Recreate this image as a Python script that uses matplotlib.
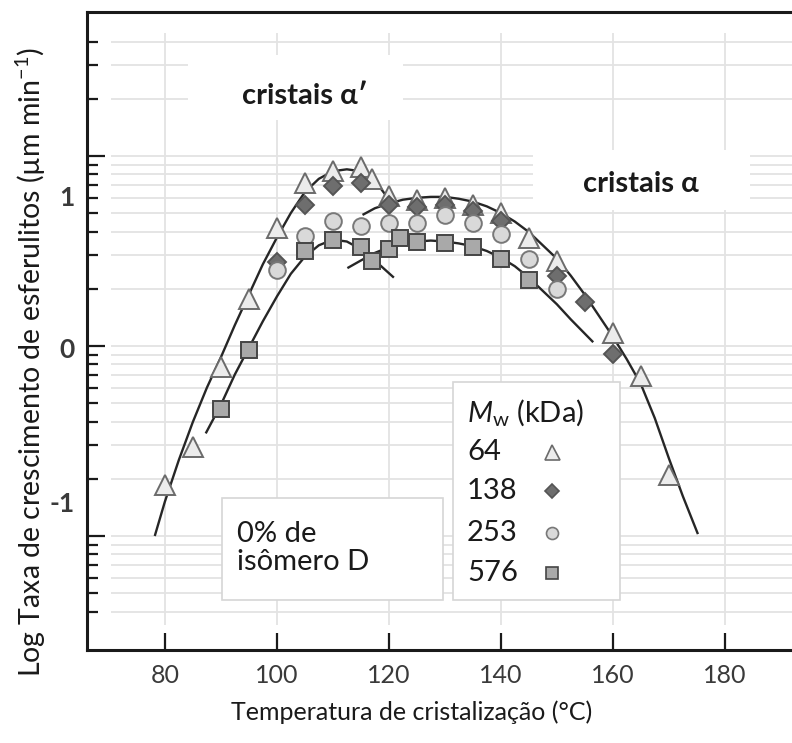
import numpy as np
import matplotlib.pyplot as plt
from matplotlib.patches import Rectangle
from matplotlib.transforms import blended_transform_factory

plt.rcParams['font.family'] = ['Lato', 'DejaVu Sans']
plt.rcParams['mathtext.fontset'] = 'custom'
plt.rcParams['mathtext.rm'] = 'Lato'
plt.rcParams['mathtext.it'] = 'Lato:italic'

# log10 of spherulite growth rate vs crystallization temperature, per Mw (kDa)
t_64 = [80, 85, 90, 95, 100, 105, 110, 115, 117, 120, 125, 130, 135, 140, 145, 150, 160, 165, 170]
g_64 = [-0.73, -0.53, -0.11, 0.25, 0.62, 0.86, 0.92, 0.94, 0.88, 0.79, 0.77, 0.78, 0.74, 0.70,
        0.57, 0.45, 0.07, -0.16, -0.68]
t_138 = [100, 105, 110, 115, 120, 125, 130, 135, 140, 150, 155, 160]
g_138 = [0.44, 0.74, 0.84, 0.86, 0.74, 0.73, 0.74, 0.71, 0.66, 0.37, 0.23, -0.04]
t_253 = [100, 105, 110, 115, 120, 125, 130, 135, 140, 145, 150]
g_253 = [0.40, 0.58, 0.66, 0.63, 0.65, 0.65, 0.69, 0.65, 0.59, 0.46, 0.30]
t_576 = [90, 95, 105, 110, 115, 117, 120, 122, 125, 130, 135, 140, 145]
g_576 = [-0.33, -0.02, 0.50, 0.56, 0.52, 0.45, 0.51, 0.57, 0.55, 0.54, 0.52, 0.46, 0.35]

# fitted curves (alpha' and alpha regimes)
fit1_t = [78.2, 80, 82.5, 85, 87.5, 90, 92.5, 95, 97.5, 100, 102.5, 105, 107.5, 110, 112.5, 115, 117.5, 119.3]
fit1_g = [-1.00, -0.82, -0.60, -0.40, -0.22, -0.06, 0.11, 0.27, 0.43, 0.57, 0.70, 0.81, 0.88, 0.92,
          0.93, 0.92, 0.87, 0.80]
fit2_t = [115.3, 117.5, 120, 122.5, 125, 127.5, 130, 132.5, 135, 137.5, 140, 142.5, 145, 147.5, 150,
          152.5, 155, 157.5, 160, 162.5, 165, 167.5, 170, 172.5, 175.2]
fit2_g = [0.69, 0.725, 0.75, 0.77, 0.78, 0.785, 0.785, 0.775, 0.76, 0.735, 0.70, 0.655, 0.60, 0.53,
          0.46, 0.37, 0.27, 0.16, 0.05, -0.07, -0.20, -0.38, -0.59, -0.79, -0.99]
fit3_t = [87.3, 90, 92.5, 95, 97.5, 100, 102.5, 105, 107.5, 110, 112.5, 115, 117.5, 120.9]
fit3_g = [-0.46, -0.31, -0.15, -0.01, 0.13, 0.26, 0.38, 0.47, 0.53, 0.56, 0.55, 0.51, 0.45, 0.36]
fit4_t = [112.6, 115, 117.5, 120, 122.5, 125, 127.5, 130, 132.5, 135, 137.5, 140, 142.5, 145, 147.5,
          150, 152.5, 154.5, 156.5]
fit4_g = [0.41, 0.45, 0.49, 0.52, 0.54, 0.55, 0.555, 0.55, 0.54, 0.525, 0.50, 0.465, 0.42, 0.36,
          0.29, 0.22, 0.14, 0.08, 0.02]

x_ticks = [80, 100, 120, 140, 160, 180]
y_major = [-1, 0, 1]
y_minor = np.log10([0.04, 0.05, 0.06, 0.07, 0.08, 0.09,
                    0.2, 0.3, 0.4, 0.5, 0.6, 0.7, 0.8, 0.9,
                    2, 3, 4, 5, 6, 7, 8, 9, 20, 30, 40])
y_labels = ['1', '0', '-1']
y_label_pos = [0.78, -0.02, -0.83]   # where the labels sit in the picture
legend_labels = ['64', '138', '253', '576']

fig = plt.figure(figsize=(7.92, 7.43), dpi=100)
ax = fig.add_axes([87/792, 1-650/743, 1-87/792, 638/743])
ax.set_xlim(66.1, 192.0)
ax.set_ylim(-1.6, 1.758)

grid_c = '#e3e3e3'
ax.hlines(list(y_minor) + y_major, 70.3, 192, color=grid_c, lw=1.3, zorder=0)
ax.vlines(x_ticks, -1.47, 1.65, color=grid_c, lw=1.3, zorder=0)

# white boxes behind the regime labels
ax.add_patch(Rectangle((0.143, 0.831), 0.305, 0.102, transform=ax.transAxes,
                       fc='white', ec='none', zorder=0.5))
ax.add_patch(Rectangle((0.633, 0.690), 0.307, 0.094, transform=ax.transAxes,
                       fc='white', ec='none', zorder=0.5))

for ft, fg in [(fit1_t, fit1_g), (fit2_t, fit2_g), (fit3_t, fit3_g), (fit4_t, fit4_g)]:
    ax.plot(ft, fg, color='#262626', lw=1.7, zorder=2, solid_capstyle='butt')

styles = [
    (t_64, g_64, '^', 15, '#ececec', '#6b6b6b'),
    (t_138, g_138, 'D', 9.5, '#6e6e6e', '#555555'),
    (t_253, g_253, 'o', 12, '#d9d9d9', '#787878'),
    (t_576, g_576, 's', 11.5, '#a9a9a9', '#454545'),
]
for t, g, m, ms, fc, ec in styles:
    ax.plot(t, g, ls='none', marker=m, ms=ms, mfc=fc, mec=ec, mew=1.4, zorder=3)

ax.text(0.309, 0.868, 'cristais α′', transform=ax.transAxes, ha='center', va='center',
        fontsize=21, fontweight='bold', color='#1a1a1a', zorder=4)
ax.text(0.785, 0.731, 'cristais α', transform=ax.transAxes, ha='center', va='center',
        fontsize=21, fontweight='bold', color='#1a1a1a', zorder=4)

# "0% de isomero D" box
ax.add_patch(Rectangle((0.191, 0.078), 0.314, 0.160, transform=ax.transAxes,
                       fc='white', ec='#d6d6d6', lw=1.2, zorder=4))
ax.text(0.213, 0.160, '0% de\nisômero D', transform=ax.transAxes, ha='left', va='center',
        fontsize=21, color='#1a1a1a', linespacing=1.1, zorder=5)

# legend box
ax.add_patch(Rectangle((0.519, 0.078), 0.237, 0.342, transform=ax.transAxes,
                       fc='white', ec='#d6d6d6', lw=1.2, zorder=4))
ax.text(0.539, 0.372, r'$M_\mathrm{w}$ (kDa)', transform=ax.transAxes, ha='left', va='center',
        fontsize=21, color='#1a1a1a', zorder=5)
leg_y = [0.310, 0.249, 0.183, 0.120]
for (t, g, m, ms, fc, ec), lab, yy in zip(styles, legend_labels, leg_y):
    ax.text(0.539, yy, lab, transform=ax.transAxes, ha='left', va='center',
            fontsize=21, color='#1a1a1a', zorder=5)
    ax.plot([0.660], [yy], transform=ax.transAxes, ls='none', marker=m, ms=ms * 0.72,
            mfc=fc, mec=ec, mew=1.2, zorder=6, clip_on=False)

# axes styling
for s in ['left', 'bottom', 'top']:
    ax.spines[s].set_linewidth(2.2)
    ax.spines[s].set_color('#1a1a1a')
ax.spines['right'].set_visible(False)

ax.set_xticks(x_ticks)
ax.tick_params(axis='x', direction='in', length=12, width=1.6, color='#1a1a1a',
               labelsize=18, labelcolor='#3a3a3a', pad=10)
ax.set_yticks(y_major)
ax.set_yticklabels([])
ax.set_yticks(y_minor, minor=True)
ax.tick_params(axis='y', which='major', direction='in', length=13, width=1.6, color='#1a1a1a')
ax.tick_params(axis='y', which='minor', direction='in', length=8, width=1.6, color='#1a1a1a')

tr = blended_transform_factory(ax.transAxes, ax.transData)
for lab, yy in zip(y_labels, y_label_pos):
    ax.text(-0.018, yy, lab, transform=tr, ha='right', va='center', fontsize=19,
            fontweight='bold', color='#3a3a3a')

fig.text(0.52, 1 - 712/743, 'Temperatura de cristalização (°C)', ha='center', va='center',
         fontsize=18, color='#1a1a1a')
fig.text(31/792, 1 - 362/743, 'Log Taxa de crescimento de esferulitos (µm min$^{-1}$)',
         rotation=90, ha='center', va='center', fontsize=20.5, color='#1a1a1a')

fig.savefig('out.png', dpi=100)
